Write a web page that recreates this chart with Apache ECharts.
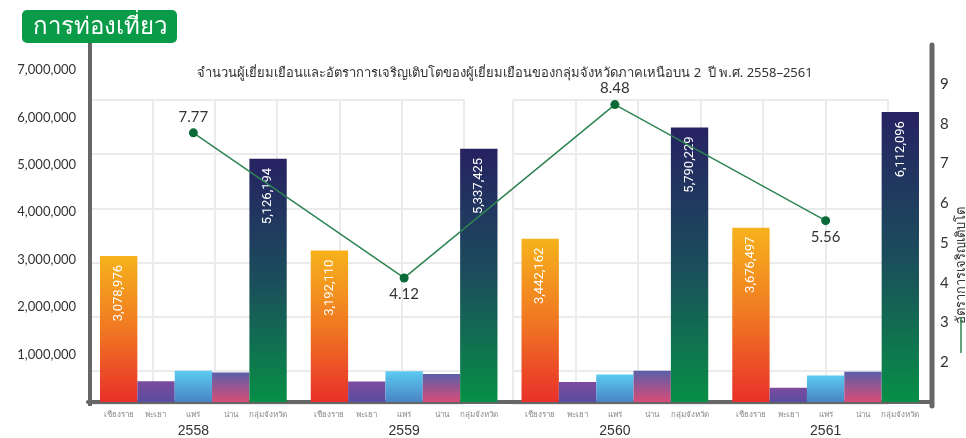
<!DOCTYPE html>
<html>
<head>
<meta charset="utf-8">
<script src="https://cdn.jsdelivr.net/npm/echarts@6/dist/echarts.min.js"></script>
<style>
html,body{margin:0;padding:0;background:#fff;}
#chart{width:966px;height:438px;}
</style>
</head>
<body>
<div id="chart"></div>
<script>
const years = ['2558', '2559', '2560', '2561'];
const provinces = ['เชียงราย', 'พะเยา', 'แพร่', 'น่าน', 'กลุ่มจังหวัด'];
const chiangRai = [3078976, 3192110, 3442162, 3676497];
const phayao = [440000, 430000, 420000, 300000];
const phrae = [660000, 650000, 580000, 560000];
const nan = [620000, 590000, 660000, 640000];
const groupTotal = [5126194, 5337425, 5790229, 6112096];
const growth = [7.77, 4.12, 8.48, 5.56];
const growthName = 'อัตราการเจริญเติบโต';
const leftTicks = [1000000, 2000000, 3000000, 4000000, 5000000, 6000000, 7000000];
const rightTicks = [2, 3, 4, 5, 6, 7, 8, 9];
const titleText = 'จำนวนผู้เยี่ยมเยือนและอัตราการเจริญเติบโตของผู้เยี่ยมเยือนของกลุ่มจังหวัดภาคเหนือบน 2  ปี พ.ศ. 2558–2561';
const badgeText = 'การท่องเที่ยว';

const G = (stops) => new echarts.graphic.LinearGradient(0, 0, 0, 1,
  stops.map((c, i) => ({ offset: i / (stops.length - 1), color: c })));

const gradients = [
  G(['#f6b21c', '#f07822', '#e8302a']),
  G(['#7c4b9e', '#5a4d9f']),
  G(['#5ccbf1', '#4884c4']),
  G(['#5a5fa9', '#d84c77']),
  G(['#262262', '#1b4d5c', '#078f46'])
];
const seriesData = [chiangRai, phayao, phrae, nan, groupTotal];
const labeled = [true, false, false, false, true];
const growthLabelPos = ['top', 'bottom', 'top', 'bottom'];

const fmt = (v) => v.toLocaleString('en-US');

const chart = echarts.init(document.getElementById('chart'), null, { renderer: 'canvas' });

const decoAxisX = (gi) => ({
  type: 'value', gridIndex: gi, min: 0, max: 6, interval: 1,
  axisLine: { show: false }, axisTick: { show: false }, axisLabel: { show: false },
  splitLine: { show: true, lineStyle: { color: '#ebebeb', width: 2 } }
});
const decoAxisY = (gi) => ({
  type: 'value', gridIndex: gi, min: 0, max: 5.61, interval: 1, inverse: true,
  axisLine: { show: false }, axisTick: { show: false }, axisLabel: { show: false },
  splitLine: { show: true, lineStyle: { color: '#ebebeb', width: 2 } }
});

const barSeries = provinces.map((p, i) => ({
  name: p,
  type: 'bar',
  xAxisIndex: 0,
  yAxisIndex: 0,
  barGap: '0%',
  barCategoryGap: '11.4%',
  data: seriesData[i],
  itemStyle: { color: gradients[i] },
  label: {
    show: labeled[i],
    position: 'insideTop',
    rotate: 90,
    align: 'right',
    verticalAlign: 'middle',
    distance: 9,
    color: '#ffffff',
    fontSize: 13,
    fontFamily: '"Liberation Sans Narrow", Roboto, sans-serif',
    formatter: (d) => fmt(d.value)
  },
  z: 3
}));

const option = {
  animation: false,
  backgroundColor: '#ffffff',
  title: {
    text: titleText,
    left: 500,
    top: 62,
    textAlign: 'center',
    textStyle: { fontSize: 13, fontWeight: 'normal', color: '#333', fontFamily: '"Noto Sans", sans-serif' }
  },
  grid: [
    { left: 88, right: 35, top: 70, bottom: 34 },
    { left: 90, top: 100, width: 374, height: 304 },
    { left: 513, top: 100, width: 375, height: 304 }
  ],
  xAxis: [
    {
      type: 'category',
      gridIndex: 0,
      data: years,
      axisLine: { show: true, lineStyle: { color: '#666', width: 4 } },
      axisTick: { show: false },
      axisLabel: {
        interval: 0,
        hideOverlap: false,
        margin: 7,
        formatter: (v) => provinces.map(p => '{a|' + p + '}').join('') + '\n{y|' + v + '}',
        rich: {
          a: { width: 37.4, align: 'center', fontSize: 8, color: '#888', lineHeight: 12 },
          y: { align: 'center', fontSize: 14, color: '#333', lineHeight: 20 }
        }
      }
    },
    decoAxisX(1),
    decoAxisX(2)
  ],
  yAxis: [
    {
      type: 'value',
      gridIndex: 0,
      min: 0,
      max: 7000000,
      interval: 1000000,
      axisLine: { show: false },
      axisTick: { show: false },
      splitLine: { show: false },
      axisLabel: {
        margin: 12,
        fontSize: 13,
        color: '#333',
        fontFamily: 'Lato, sans-serif',
        showMinLabel: false,
        formatter: (v) => leftTicks.includes(v) ? fmt(v) : ''
      }
    },
    {
      type: 'value',
      gridIndex: 0,
      position: 'right',
      min: 1,
      max: 9.35,
      interval: 1,
      axisLine: { show: false },
      axisTick: { show: false },
      splitLine: { show: false },
      axisLabel: {
        margin: 9,
        fontSize: 15,
        color: '#333',
        fontFamily: 'Lato, sans-serif',
        showMinLabel: false,
        showMaxLabel: false,
        formatter: (v) => rightTicks.includes(v) ? String(v) : ''
      }
    },
    decoAxisY(1),
    decoAxisY(2)
  ],
  series: barSeries.concat([
    {
      name: growthName,
      type: 'line',
      xAxisIndex: 0,
      yAxisIndex: 1,
      data: growth.map((v, i) => ({ value: v, label: { position: growthLabelPos[i] } })),
      symbol: 'circle',
      symbolSize: 9,
      itemStyle: { color: '#0b6b38' },
      lineStyle: { color: '#2e8453', width: 1.5 },
      label: {
        show: true,
        fontSize: 15,
        color: '#333',
        distance: 4,
        fontFamily: 'Lato, sans-serif',
        formatter: (d) => d.value.toFixed(2)
      },
      z: 5
    }
  ]),
  graphic: [
    {
      type: 'rect',
      shape: { x: 22, y: 10, width: 155, height: 33, r: 5 },
      style: { fill: '#0a9b48' },
      z: 10
    },
    {
      type: 'text',
      x: 100, y: 27,
      style: {
        text: badgeText, fill: '#fff', fontSize: 24, align: 'center', verticalAlign: 'middle',
        fontWeight: 'normal', fontFamily: '"Noto Sans", sans-serif'
      },
      z: 11
    },
    {
      type: 'line',
      shape: { x1: 90, y1: 43, x2: 90, y2: 406 },
      style: { stroke: '#666', lineWidth: 4 },
      z: 10
    },
    {
      type: 'line',
      shape: { x1: 932, y1: 45, x2: 932, y2: 406 },
      style: { stroke: '#666', lineWidth: 5, lineCap: 'round' },
      z: 10
    },
    {
      type: 'text',
      x: 961, y: 265,
      rotation: Math.PI / 2,
      style: {
        text: growthName, fill: '#333', fontSize: 13, align: 'center', verticalAlign: 'middle',
        fontFamily: '"Noto Sans", sans-serif'
      },
      z: 10
    },
    {
      type: 'line',
      shape: { x1: 961, y1: 317, x2: 961, y2: 353 },
      style: { stroke: '#2e8453', lineWidth: 1.5 },
      z: 10
    }
  ]
};

chart.setOption(option);
</script>
</body>
</html>
